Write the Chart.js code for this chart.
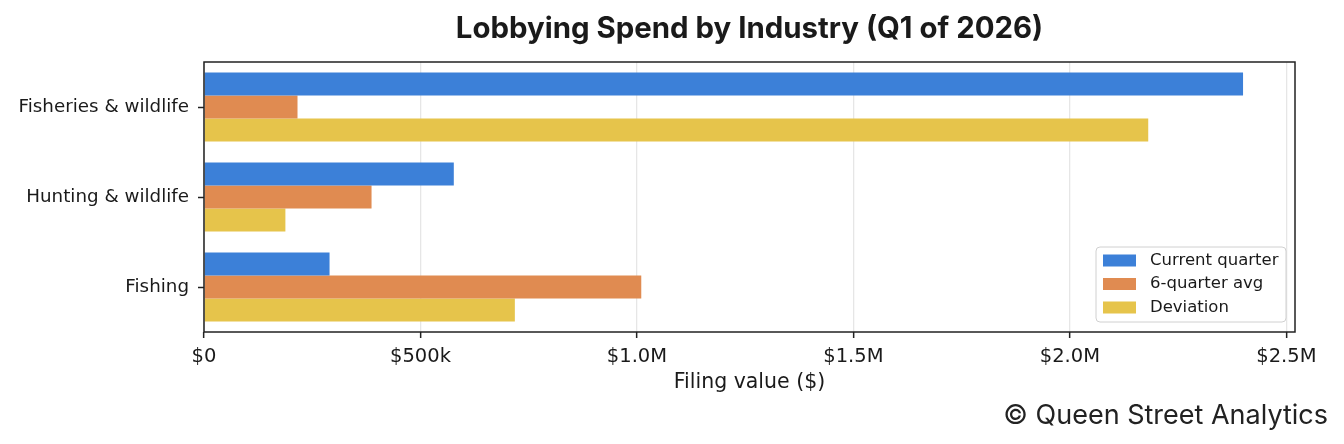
<!DOCTYPE html>
<html>
<head>
<meta charset="utf-8">
<script src="https://cdn.jsdelivr.net/npm/chart.js@4.4.1/dist/chart.umd.min.js"></script>
<style>
  html, body { margin: 0; padding: 0; background: #fff; }
  #wrap { width: 1344px; height: 444px; }
</style>
</head>
<body>
<div id="wrap"><canvas id="lobbyChart" width="1344" height="444"></canvas></div>
<script>
const industries = ['Fisheries & wildlife', 'Hunting & wildlife', 'Fishing'];
const currentQuarter = [2400000, 577000, 290000];
const sixQuarterAvg = [216000, 387000, 1010000];
const deviation = [2181000, 188000, 718000];
const seriesNames = ['Current quarter', '6-quarter avg', 'Deviation'];
const tickValues = [0, 500000, 1000000, 1500000, 2000000, 2500000];
const tickLabels = ['$0', '$500k', '$1.0M', '$1.5M', '$2.0M', '$2.5M'];

const colors = ['#3c80d8', '#e08b51', '#e6c44b'];
const ink = '#1a1a1a';

Chart.defaults.font.family = '"DejaVu Sans", sans-serif';
Chart.defaults.color = ink;

// title, axis title, frame, legend and credit drawn on top
const decor = {
    id: 'decor',
    afterDraw(chart) {
        const { ctx, chartArea: a } = chart;
        ctx.save();
        ctx.strokeStyle = '#222';
        ctx.lineWidth = 1.5;
        ctx.strokeRect(a.left, a.top, a.right - a.left, a.bottom - a.top);

        const cx = (a.left + a.right) / 2;
        ctx.fillStyle = ink;
        ctx.textAlign = 'center';
        ctx.textBaseline = 'alphabetic';
        ctx.font = 'bold 29.4px Inter';
        ctx.fillText('Lobbying Spend by Industry (Q1 of 2026)', cx, 38);

        ctx.font = '20.5px "DejaVu Sans"';
        ctx.textBaseline = 'middle';
        ctx.fillText('Filing value ($)', cx, 383);

        ctx.textAlign = 'right';
        ctx.textBaseline = 'alphabetic';
        ctx.font = '27px Inter';
        ctx.fillStyle = '#222';
        ctx.fillText('\u00A9 Queen Street Analytics', 1328, 424);

        // legend box, lower right inside the plot
        const w = 190, h = 75;
        const lx = a.right - 9 - w, ly = a.bottom - 10 - h;
        ctx.beginPath();
        ctx.roundRect(lx, ly, w, h, 4);
        ctx.fillStyle = 'rgba(255,255,255,0.85)';
        ctx.fill();
        ctx.strokeStyle = '#d0d0d0';
        ctx.lineWidth = 1;
        ctx.stroke();
        ctx.font = '16.5px "DejaVu Sans"';
        ctx.textAlign = 'left';
        ctx.textBaseline = 'middle';
        seriesNames.forEach((name, i) => {
            const ry = ly + 13.5 + i * 23.5;
            ctx.fillStyle = colors[i];
            ctx.fillRect(lx + 7, ry - 6, 33, 12);
            ctx.fillStyle = ink;
            ctx.fillText(name, lx + 54, ry);
        });
        ctx.restore();
    }
};

const ctx = document.getElementById('lobbyChart').getContext('2d');
const chart = new Chart(ctx, {
    type: 'bar',
    data: {
        labels: industries,
        datasets: [currentQuarter, sixQuarterAvg, deviation].map((vals, i) => ({
            label: seriesNames[i],
            data: vals,
            backgroundColor: colors[i],
            borderWidth: 0,
            categoryPercentage: 0.767,
            barPercentage: 1.0
        }))
    },
    options: {
        indexAxis: 'y',
        responsive: false,
        animation: false,
        layout: { padding: { top: 62, right: 49, left: 0, bottom: 0 } },
        plugins: {
            legend: { display: false },
            title: { display: false },
            tooltip: { enabled: false }
        },
        scales: {
            x: {
                type: 'linear',
                min: 0,
                max: 2520000,
                afterFit(scale) { scale.height = 112; },
                afterBuildTicks(scale) {
                    scale.ticks = tickValues.map(v => ({ value: v }));
                },
                border: { display: false },
                grid: {
                    color: '#e6e6e6',
                    lineWidth: 1.3,
                    tickColor: '#222',
                    tickLength: 6,
                    tickWidth: 1.5
                },
                ticks: {
                    autoSkip: false,
                    maxRotation: 0,
                    padding: 7,
                    font: { size: 19.5 },
                    callback: (v) => {
                        const k = tickValues.indexOf(v);
                        return k >= 0 ? tickLabels[k] : '';
                    }
                }
            },
            y: {
                afterFit(scale) { scale.width = 204; },
                border: { display: false },
                grid: {
                    offset: false,
                    drawOnChartArea: false,
                    tickColor: '#222',
                    tickLength: 6,
                    tickWidth: 1.5
                },
                ticks: {
                    padding: 9,
                    font: { size: 18.3 }
                }
            }
        }
    },
    plugins: [decor]
});
</script>
</body>
</html>
